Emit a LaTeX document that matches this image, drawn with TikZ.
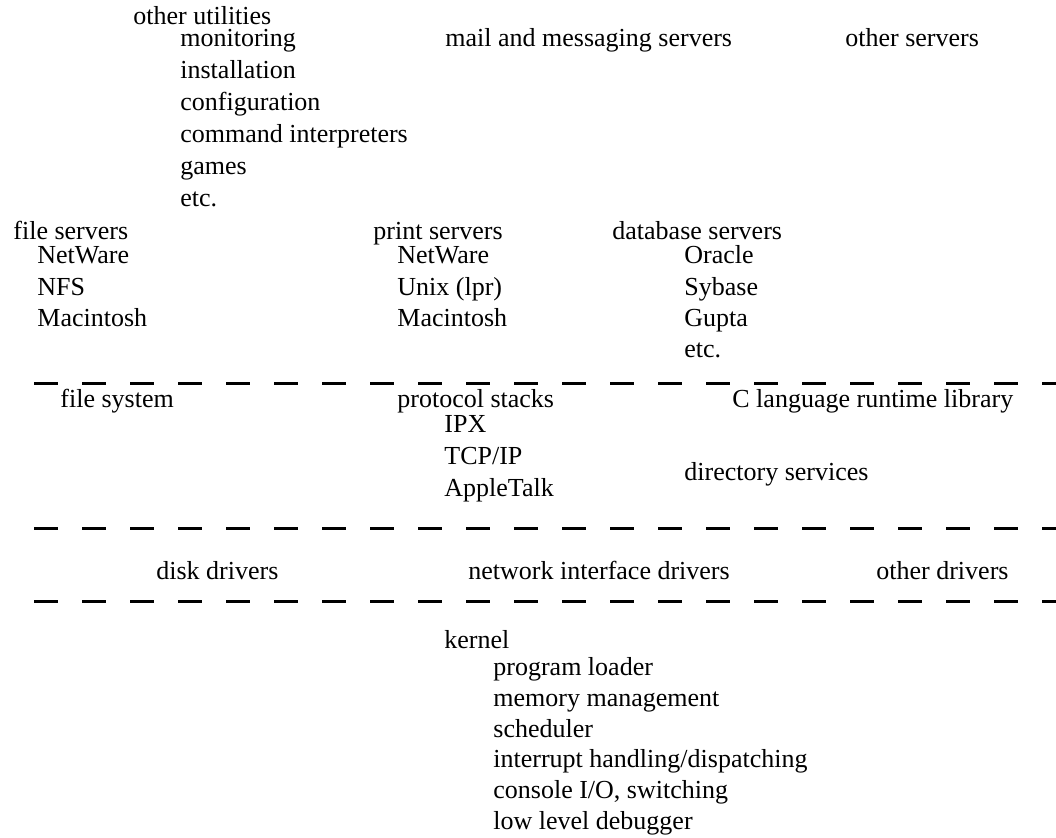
\documentclass[tikz,border=0pt]{standalone}
\usepackage{fontspec}
\setmainfont{Liberation Serif}
\begin{document}
\begin{tikzpicture}[x=0.5pt, y=-0.5pt]
\tikzset{txt/.style={anchor=base west, inner sep=0pt, font=\fontsize{13}{15}\selectfont}}
\tikzset{sepline/.style={line width=1.5pt, dash pattern=on 12pt off 12pt}}
\useasboundingbox (0, 0) rectangle (1056, 838);
% utilities and servers
\node[txt] (U0) at (133, 25) {other utilities};
\node[txt] (U1) at (180, 47) {monitoring};
\node[txt] (U2) at (180, 79) {installation};
\node[txt] (U3) at (180, 111) {configuration};
\node[txt] (U4) at (180, 143) {command interpreters};
\node[txt] (U5) at (180, 175) {games};
\node[txt] (U6) at (180, 207) {etc.};
\node[txt] (M0) at (445, 47) {mail and messaging servers};
\node[txt] (O0) at (845, 47) {other servers};
\node[txt] (F0) at (13, 240) {file servers};
\node[txt] (F1) at (37, 264) {NetWare};
\node[txt] (F2) at (37, 296) {NFS};
\node[txt] (F3) at (37, 327) {Macintosh};
\node[txt] (P0) at (373, 240) {print servers};
\node[txt] (P1) at (397, 264) {NetWare};
\node[txt] (P2) at (397, 296) {Unix (lpr)};
\node[txt] (P3) at (397, 327) {Macintosh};
\node[txt] (B0) at (612, 240) {database servers};
\node[txt] (B1) at (684, 264) {Oracle};
\node[txt] (B2) at (684, 296) {Sybase};
\node[txt] (B3) at (684, 327) {Gupta};
\node[txt] (B4) at (684, 358) {etc.};
% separators
\coordinate (L1a) at (34, 384);
\coordinate (L1b) at (1056, 384);
\coordinate (L2a) at (34, 529);
\coordinate (L2b) at (1056, 529);
\coordinate (L3a) at (34, 602);
\coordinate (L3b) at (1056, 602);
\draw[sepline] (L1a) -- (L1b);
\draw[sepline] (L2a) -- (L2b);
\draw[sepline] (L3a) -- (L3b);
% services
\node[txt] (S0) at (60, 408) {file system};
\node[txt] (N0) at (397, 408) {protocol stacks};
\node[txt] (N1) at (444, 433) {IPX};
\node[txt] (N2) at (444, 465) {TCP/IP};
\node[txt] (N3) at (444, 497) {AppleTalk};
\node[txt] (C0) at (732, 408) {C language runtime library};
\node[txt] (D0) at (684, 481) {directory services};
% drivers
\node[txt] (R1) at (156, 580) {disk drivers};
\node[txt] (R2) at (468, 580) {network interface drivers};
\node[txt] (R3) at (876, 580) {other drivers};
% kernel
\node[txt] (K0) at (444, 649) {kernel};
\node[txt] (K1) at (493, 676) {program loader};
\node[txt] (K2) at (493, 707) {memory management};
\node[txt] (K3) at (493, 738) {scheduler};
\node[txt] (K4) at (493, 768) {interrupt handling/dispatching};
\node[txt] (K5) at (493, 799) {console I/O, switching};
\node[txt] (K6) at (493, 830) {low level debugger};
\end{tikzpicture}
\end{document}
